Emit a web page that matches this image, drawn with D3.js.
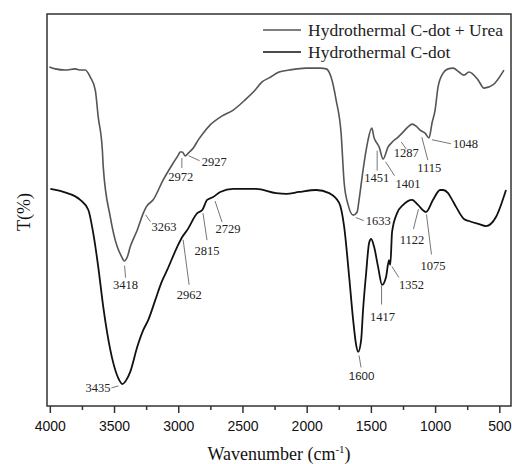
<!DOCTYPE html>
<html>
<head>
<meta charset="utf-8">
<script src="https://cdn.jsdelivr.net/npm/d3@7"></script>
<style>
  body { margin: 0; background: #fff; }
  svg { display: block; }
</style>
</head>
<body>
<div id="chart"></div>
<script>
// FTIR spectra, values (T in arbitrary %, no y ticks shown)
var xTicks = [4000, 3500, 3000, 2500, 2000, 1500, 1000, 500];
var xMinorTicks = [3750, 3250, 2750, 2250, 1750, 1250, 750];
var seriesNames = ["Hydrothermal C-dot + Urea", "Hydrothermal C-dot"];

var ureaWn = [4004, 3957, 3879, 3802, 3763, 3724, 3685, 3646, 3623, 3591, 3584, 3529, 3475, 3444,
  3420, 3397, 3374, 3319, 3272, 3249, 3195, 3117, 3039, 3000, 2985, 2969, 2946, 2922, 2883, 2844,
  2806, 2751, 2658, 2572, 2479, 2401, 2347, 2292, 2215, 2137, 2004, 1895, 1848, 1810, 1771, 1732,
  1708, 1677, 1638, 1607, 1592, 1561, 1537, 1522, 1493, 1475, 1454, 1436, 1405, 1366, 1335, 1288,
  1257, 1211, 1179, 1148, 1117, 1078, 1047, 1024, 1000, 977, 938, 899, 860, 814, 775, 736, 666,
  619, 550, 464];
var ureaT = [86.5, 86.0, 85.7, 86.0, 85.7, 85.7, 83.9, 80.6, 73.7, 65.3, 61.0, 48.2, 40.6, 38.3,
  37.0, 38.0, 40.6, 44.9, 49.2, 50.8, 52.6, 57.7, 62.0, 64.0, 64.8, 64.8, 63.8, 64.5, 65.8, 67.9,
  69.6, 71.7, 74.0, 75.5, 78.1, 80.6, 82.7, 83.7, 85.2, 85.7, 86.2, 86.2, 86.0, 83.9, 78.1, 69.6,
  56.9, 51.3, 48.7, 49.5, 52.6, 60.2, 65.3, 67.9, 70.9, 68.4, 67.1, 66.1, 63.0, 66.1, 67.3, 68.6,
  69.6, 71.2, 71.9, 71.4, 70.4, 69.6, 68.4, 72.2, 75.5, 81.4, 84.9, 86.0, 86.2, 85.2, 84.4, 85.2,
  83.2, 81.1, 81.9, 85.7];

var cdotWn = [3996, 3864, 3763, 3700, 3662, 3623, 3584, 3553, 3506, 3467, 3436, 3405, 3374, 3319,
  3272, 3234, 3179, 3132, 3086, 3008, 2969, 2930, 2852, 2813, 2775, 2728, 2673, 2572, 2393, 2238,
  2160, 2059, 1926, 1825, 1747, 1708, 1669, 1638, 1615, 1599, 1576, 1561, 1537, 1514, 1498, 1475,
  1444, 1413, 1382, 1359, 1349, 1335, 1296, 1249, 1179, 1133, 1071, 1016, 961, 938, 899, 876, 837,
  775, 736, 658, 604, 526, 448];
var cdotT = [55.4, 54.3, 52.6, 50.0, 44.1, 35.5, 25.3, 18.6, 11.0, 7.1, 5.6, 6.6, 8.7, 15.1,
  19.4, 21.9, 27.0, 31.4, 34.7, 40.6, 43.1, 44.9, 49.2, 50.0, 52.6, 53.3, 54.6, 55.4, 55.4, 54.3,
  54.1, 54.6, 55.1, 54.3, 51.8, 45.7, 32.9, 21.9, 15.6, 13.8, 16.8, 24.5, 33.9, 41.6, 42.6, 40.6,
  35.5, 30.9, 32.9, 37.2, 36.0, 44.4, 49.2, 51.3, 52.6, 51.3, 49.5, 52.6, 55.1, 55.1, 54.3, 53.1, 50.8,
  47.7, 47.2, 46.4, 45.9, 48.2, 55.1];

var ureaPeaks = [3418, 3263, 2972, 2927, 1633, 1451, 1401, 1287, 1115, 1048];
var cdotPeaks = [3435, 2962, 2815, 2729, 1600, 1417, 1352, 1122, 1075];

// label layout (px offsets from the curve point): leader start, leader end, text, anchor
var ureaLabelPos = [
  [0, 5, 1, 17, 1, 24, "middle"],
  [1, 4, 6, 11, 7, 16, "start"],
  [0, 6, 0, 16, -1, 25, "middle"],
  [1, 2, 12, 7, 14, 8, "start"],
  [2, 3, 10, 6, 12, 6, "start"],
  [0, 7, 0, 27, -0.5, 34, "middle"],
  [2, 4, 11, 18, 12, 26, "start"],
  [3, 5, 8, 12, 8, 16, "middle"],
  [1.5, 7, 7.5, 30, 9, 37, "middle"],
  [3, 2, 22, 6, 24, 6, "start"]
];
var cdotLabelPos = [
  [-4, 2, -11, 4, -12, 4, "end"],
  [0, 4, 6, 49, 6, 59, "middle"],
  [1, 3, 5, 30, 5, 40, "middle"],
  [2, 4, 9, 25, 15, 32, "middle"],
  [1, 4, 3, 16, 3.5, 25, "middle"],
  [0, 3, 0, 22, 1, 34, "middle"],
  [2, 3, 9, 14, 9, 21, "start"],
  [-1, 3, -6, 23, -7.5, 33, "middle"],
  [1, 3, 6, 43, 7.5, 54, "middle"]
];

var W = 512, H = 464;
var margins = {top: 14, right: 1, bottom: 58, left: 47};
var width = W - margins.left - margins.right;
var height = H - margins.top - margins.bottom;

var serif = "'Liberation Serif', 'Times New Roman', serif";
var sans = "'Liberation Sans', Arial, sans-serif";

var svg = d3.select("#chart").append("svg").attr("width", W).attr("height", H);
var chart = svg.append("g").attr("transform", "translate(" + margins.left + "," + margins.top + ")");

var xScale = d3.scaleLinear().domain([4022, 409]).range([0, width]);
var yScale = d3.scaleLinear().domain([0, 100]).range([height, 0]);

function zip(wn, t) {
  return wn.map(function(d, i) { return {wn: d, t: t[i]}; });
}
var urea = zip(ureaWn, ureaT);
var cdot = zip(cdotWn, cdotT);

// linear lookup of T at a wavenumber (data sorted by decreasing wn)
function tAt(data, wn) {
  for (var i = 1; i < data.length; i++) {
    if (data[i].wn <= wn) {
      var a = data[i - 1], b = data[i];
      var k = (a.wn - wn) / (a.wn - b.wn);
      return a.t + k * (b.t - a.t);
    }
  }
  return data[data.length - 1].t;
}

var line = d3.line()
  .x(function(d) { return xScale(d.wn); })
  .y(function(d) { return yScale(d.t); })
  .curve(d3.curveMonotoneX);

chart.append("path").datum(urea).attr("d", line)
  .attr("fill", "none").attr("stroke", "#555").attr("stroke-width", 1.6);
chart.append("path").datum(cdot).attr("d", line)
  .attr("fill", "none").attr("stroke", "#111").attr("stroke-width", 1.8);

function drawLabels(data, peaks, pos) {
  peaks.forEach(function(wn, i) {
    var p = pos[i];
    var cx = xScale(wn), cy = yScale(tAt(data, wn));
    chart.append("line")
      .attr("x1", cx + p[0]).attr("y1", cy + p[1])
      .attr("x2", cx + p[2]).attr("y2", cy + p[3])
      .attr("stroke", "#666").attr("stroke-width", 0.9);
    chart.append("text")
      .attr("x", cx + p[4]).attr("y", cy + p[5]).attr("dy", "0.35em")
      .attr("text-anchor", p[6])
      .attr("font-family", wn === 1600 ? sans : serif)
      .attr("font-size", wn === 1600 ? 11.5 : 12.5)
      .attr("fill", "#222")
      .text(wn);
  });
}
drawLabels(urea, ureaPeaks, ureaLabelPos);
drawLabels(cdot, cdotPeaks, cdotLabelPos);

// frame
chart.append("rect").attr("width", width).attr("height", height)
  .attr("fill", "none").attr("stroke", "#333").attr("stroke-width", 1.5);

// x axis
var xAxis = d3.axisBottom(xScale).tickValues(xTicks).tickSize(7).tickFormat(d3.format("d"));
var xAxisG = chart.append("g").attr("transform", "translate(0," + height + ")").call(xAxis);
xAxisG.select(".domain").remove();
xAxisG.selectAll("line").attr("stroke", "#333").attr("stroke-width", 1.5);
xAxisG.selectAll("text").attr("font-family", sans).attr("font-size", 14).attr("fill", "#111").attr("dy", "1.05em");
var minorG = chart.append("g").attr("transform", "translate(0," + height + ")")
  .call(d3.axisBottom(xScale).tickValues(xMinorTicks).tickSize(4).tickFormat(""));
minorG.select(".domain").remove();
minorG.selectAll("line").attr("stroke", "#333").attr("stroke-width", 1.5);

// axis titles
var xt = svg.append("text")
  .attr("x", margins.left + width / 2).attr("y", 460)
  .attr("text-anchor", "middle")
  .attr("font-family", serif).attr("font-size", 18).attr("fill", "#111");
xt.append("tspan").text("Wavenumber (cm");
xt.append("tspan").attr("font-size", 11).attr("dy", -7).text("-1");
xt.append("tspan").attr("dy", 7).text(")");

svg.append("text")
  .attr("transform", "translate(30,212) rotate(-90)")
  .attr("text-anchor", "middle")
  .attr("font-family", serif).attr("font-size", 18).attr("fill", "#111")
  .text("T(%)");

// legend
var legendColors = ["#555", "#111"];
var legend = svg.append("g").attr("transform", "translate(263,30)");
seriesNames.forEach(function(name, i) {
  legend.append("line")
    .attr("x1", 0).attr("x2", 38).attr("y1", i * 22).attr("y2", i * 22)
    .attr("stroke", legendColors[i]).attr("stroke-width", 1.6);
  legend.append("text")
    .attr("x", 45).attr("y", i * 22).attr("dy", "0.33em")
    .attr("font-family", serif).attr("font-size", 17.5).attr("fill", "#222")
    .text(name);
});
</script>
</body>
</html>
